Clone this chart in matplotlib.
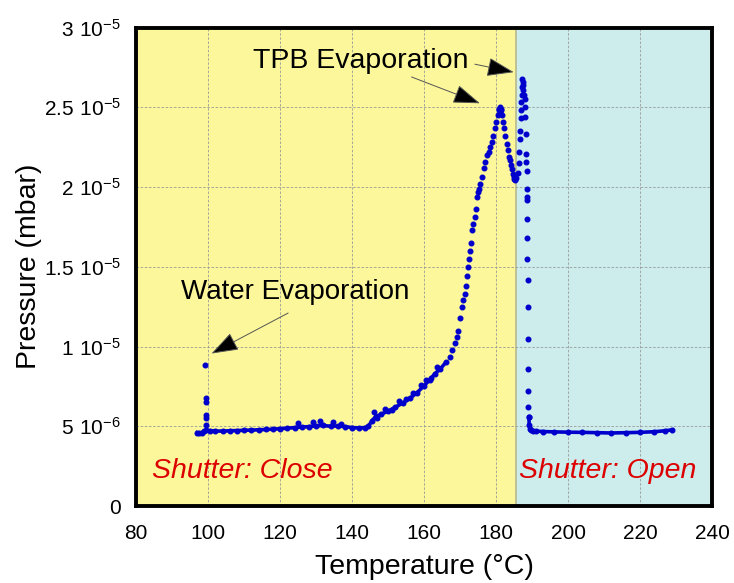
import numpy as np
import matplotlib
matplotlib.use("Agg")
import matplotlib.pyplot as plt

plt.rcParams['font.family'] = ['Liberation Sans', 'DejaVu Sans']

# ---------------- data (pressure in units of 1e-6 mbar) ----------------
# dense baseline, shutter closed
t_base_close = [96.9, 97.5, 98.2, 98.8, 99.5, 100.5, 102, 104, 106, 108, 110, 112, 114, 116, 118,
                120, 122, 124, 126, 128, 130, 132, 134, 136, 138, 140, 142, 143.5, 144.5, 145.5,
                146.5, 148, 150, 152, 154, 156, 158, 160, 161.5, 163, 164.5, 166]
p_base_close = [4.60, 4.55, 4.60, 4.70, 4.75, 4.72, 4.70, 4.70, 4.72, 4.73, 4.75, 4.76, 4.78, 4.80, 4.82,
                4.85, 4.88, 4.92, 4.95, 4.98, 5.02, 5.05, 5.00, 5.02, 4.98, 4.92, 4.90, 4.92, 5.00, 5.35,
                5.60, 5.75, 5.95, 6.20, 6.45, 6.75, 7.10, 7.55, 7.90, 8.30, 8.60, 9.00]

# scattered points around the closed baseline
t_noise = [125, 129, 131, 134.7, 137, 146, 147, 149, 151, 153, 155, 157, 159, 160.5, 162, 163.5]
p_noise = [5.20, 5.25, 5.35, 5.25, 5.15, 5.90, 5.50, 6.10, 6.00, 6.60, 6.70, 7.10, 7.60, 7.90, 8.00, 8.70]

# water evaporation spike
t_water = [99.2, 99.25, 99.3, 99.35, 99.4, 99.3]
p_water = [8.85, 6.75, 6.55, 5.70, 5.50, 5.10]

# TPB evaporation rise, peak and dip
t_tpb = [167.1, 167.8, 168.5, 169.0, 169.4, 169.9, 170.4, 170.8, 171.3, 171.6, 171.9, 172.2, 172.5,
         172.7, 172.9, 173.2, 173.6, 174.1, 174.4, 174.6, 175.0, 175.3, 175.6, 176.0, 176.5, 177.0,
         177.6, 178.0, 178.4, 178.8, 179.2, 179.7, 180.1, 180.5, 180.8, 180.9, 181.0, 181.1, 181.2,
         181.3, 181.4, 181.7, 182.0, 182.3, 182.6, 183.0, 183.3, 183.6, 183.9, 184.2, 184.5, 184.8,
         185.0, 185.1, 185.3, 185.5]
p_tpb = [9.35, 9.8, 10.2, 10.6, 11.0, 11.8, 12.5, 12.9, 13.3, 13.8, 14.4, 15.0, 15.5,
         16.0, 16.5, 17.3, 17.7, 18.1, 18.6, 19.4, 19.7, 19.9, 20.2, 20.6, 21.2, 21.6,
         22.0, 22.2, 22.5, 22.8, 23.2, 23.7, 24.1, 24.5, 24.8, 24.9, 25.0, 24.9, 24.7,
         24.9, 24.8, 24.5, 24.1, 23.7, 23.2, 22.7, 22.3, 21.9, 21.7, 21.4, 21.1, 20.8,
         20.6, 20.5, 20.45, 20.55]

# second peak after shutter opens and fast decay
t_open_peak = [186.0, 186.3, 186.5, 186.6, 186.7, 186.8, 186.9, 187.0, 187.1, 187.2, 187.3, 187.4,
               187.5, 187.6, 187.7, 187.9, 188.0, 188.1, 188.2, 188.3, 188.4,
               188.5, 188.5, 188.6, 188.6, 188.7, 188.7, 188.7, 188.8, 188.8, 188.9, 188.9, 188.9,
               189.0, 189.1]
p_open_peak = [20.9, 21.5, 22.2, 23.0, 23.5, 24.3, 24.8, 25.3, 25.8, 26.3, 26.8, 26.6,
               26.4, 26.1, 25.8, 25.5, 25.0, 24.4, 23.3, 22.1, 21.6,
               21.0, 19.9, 19.4, 19.2, 18.0, 16.8, 15.5, 14.2, 12.5, 10.5, 8.6, 7.2,
               6.2, 5.6]

# dense baseline, shutter open
t_base_open = [189.1, 189.2, 189.4, 189.7, 190.2, 191, 193, 196, 200, 204, 208, 212, 216, 220, 224, 227, 229]
p_base_open = [5.60, 5.10, 4.85, 4.75, 4.72, 4.70, 4.67, 4.65, 4.63, 4.62, 4.60, 4.58, 4.60, 4.62, 4.66, 4.72, 4.78]

shutter_switch = 185.5
x_ticks = [80, 100, 120, 140, 160, 180, 200, 220, 240]
y_ticks = [0, 5e-6, 1e-5, 1.5e-5, 2e-5, 2.5e-5, 3e-5]
y_labels = ['0', r'$\mathregular{5\ 10^{-6}}$', r'$\mathregular{1\ 10^{-5}}$', r'$\mathregular{1.5\ 10^{-5}}$',
            r'$\mathregular{2\ 10^{-5}}$', r'$\mathregular{2.5\ 10^{-5}}$', r'$\mathregular{3\ 10^{-5}}$']

scale = 1e-6
blue = '#0000CC'

fig = plt.figure(figsize=(7.34, 5.83), dpi=100)
ax = fig.add_axes([0.1857, 0.132, 0.7843, 0.8208])

ax.axvspan(80, shutter_switch, color='#FBF79A', zorder=0, lw=0)
ax.axvspan(shutter_switch, 240, color='#CDECEC', zorder=0, lw=0)
ax.axvline(shutter_switch, color='#B8B890', lw=1.2, zorder=0.5)

ax.grid(True, color='#9a9a9a', linestyle=(0, (3, 2)), linewidth=0.6, zorder=1)
ax.set_axisbelow(True)

ms = 3.3
ax.plot(t_base_close, np.array(p_base_close) * scale, '-', color=blue, lw=2.6, zorder=3)
ax.plot(t_base_close, np.array(p_base_close) * scale, 'o', color=blue, ms=ms, zorder=3)
ax.plot(t_noise, np.array(p_noise) * scale, 'o', color=blue, ms=ms, zorder=3)
ax.plot(t_water, np.array(p_water) * scale, 'o', color=blue, ms=ms, zorder=3)
ax.plot(t_tpb, np.array(p_tpb) * scale, 'o', color=blue, ms=ms, zorder=3)
ax.plot(t_open_peak, np.array(p_open_peak) * scale, 'o', color=blue, ms=ms, zorder=3)
ax.plot(t_base_open, np.array(p_base_open) * scale, '-', color=blue, lw=2.6, zorder=3)
ax.plot(t_base_open, np.array(p_base_open) * scale, 'o', color=blue, ms=ms, zorder=3)

ax.set_xlim(80, 240)
ax.set_ylim(0, 3e-5)
ax.set_xticks(x_ticks)
ax.set_xticklabels([str(v) for v in x_ticks])
ax.set_yticks(y_ticks)
ax.set_yticklabels(y_labels)
ax.tick_params(axis='both', length=0, labelsize=15)
ax.tick_params(axis='x', pad=13)
ax.tick_params(axis='y', pad=11)

for s in ax.spines.values():
    s.set_linewidth(2.8)
    s.set_color('black')
    s.set_zorder(5)

ax.set_xlabel('Temperature (°C)', fontsize=20.5, labelpad=8)
ax.set_ylabel('Pressure (mbar)', fontsize=20.5, labelpad=1)

arrow_kw = dict(arrowstyle='-|>,head_length=1.7,head_width=0.6', lw=0.7,
                shrinkA=0, shrinkB=0, ec='#555555', fc='black')
ax.text(124.2, 1.34e-5, 'Water Evaporation', fontsize=20, ha='center', va='center', zorder=6)
ax.annotate('', xy=(100.9, 0.956e-5), xytext=(122.2, 1.21e-5), arrowprops=arrow_kw, zorder=6)
ax.text(142.4, 2.79e-5, 'TPB Evaporation', fontsize=20.5, ha='center', va='center', zorder=6)
ax.annotate('', xy=(175.5, 2.525e-5), xytext=(156.5, 2.69e-5), arrowprops=arrow_kw, zorder=6)
ax.annotate('', xy=(184.9, 2.72e-5), xytext=(174.1, 2.77e-5), arrowprops=arrow_kw, zorder=6)

ax.text(84.3, 0.22e-5, 'Shutter: Close', fontsize=20.5, style='italic', color='#DD0000',
        ha='left', va='center', zorder=6)
ax.text(186.5, 0.22e-5, 'Shutter: Open', fontsize=20.5, style='italic', color='#DD0000',
        ha='left', va='center', zorder=6)

fig.savefig('out.png', dpi=100)
